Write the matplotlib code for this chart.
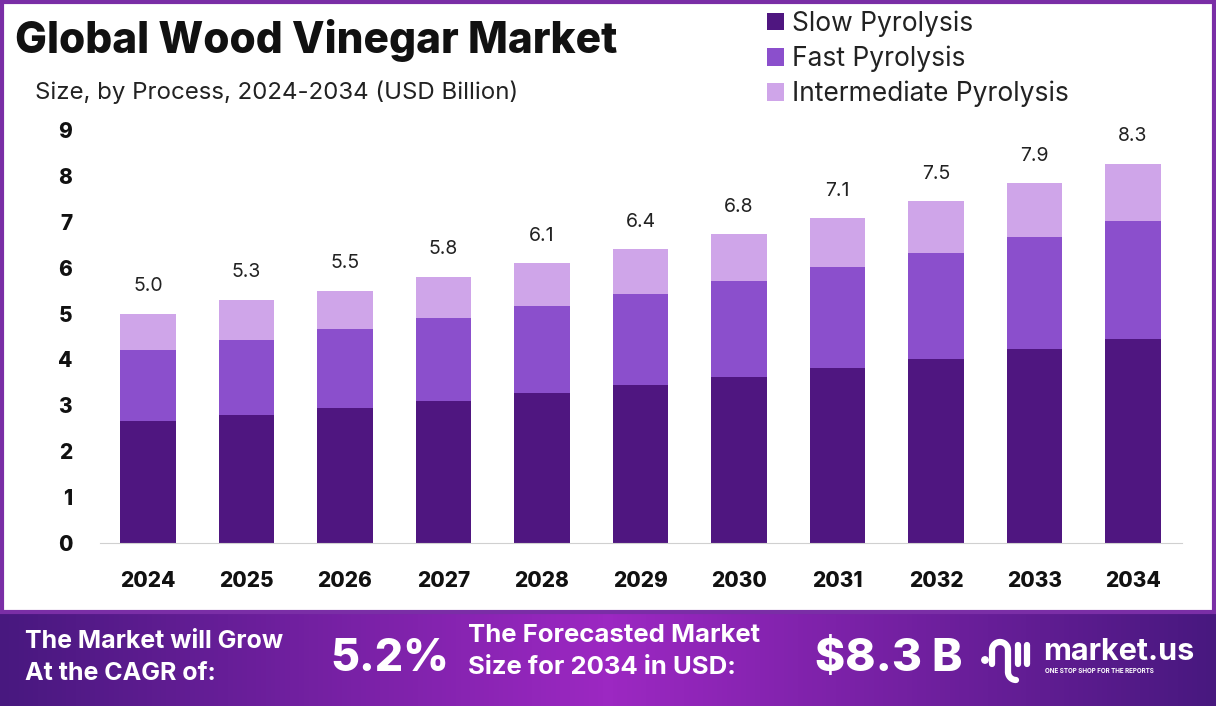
import numpy as np
import matplotlib
matplotlib.use("Agg")
import matplotlib.pyplot as plt
from matplotlib.patches import Rectangle, Circle
from matplotlib.colors import LinearSegmentedColormap

# data
years = ["2024", "2025", "2026", "2027", "2028", "2029", "2030", "2031", "2032", "2033", "2034"]
slow = [2.66, 2.79, 2.94, 3.09, 3.27, 3.44, 3.62, 3.81, 4.01, 4.23, 4.44]
fast = [1.54, 1.63, 1.72, 1.81, 1.89, 1.98, 2.09, 2.20, 2.31, 2.44, 2.58]
inter = [0.80, 0.88, 0.84, 0.90, 0.94, 0.98, 1.02, 1.07, 1.13, 1.17, 1.24]
totals = ["5.0", "5.3", "5.5", "5.8", "6.1", "6.4", "6.8", "7.1", "7.5", "7.9", "8.3"]
series_names = ["Slow Pyrolysis", "Fast Pyrolysis", "Intermediate Pyrolysis"]
colors = ["#4f1680", "#8b4fcc", "#cfa5e9"]

plt.rcParams['font.family'] = ['Inter', 'DejaVu Sans']

fig = plt.figure(figsize=(12.16, 7.06), dpi=100)
fig.patch.set_facecolor("white")

# footer band with gradient, drawn in pixel coordinates
bg = fig.add_axes([0, 0, 1, 94 / 706])
grad = np.concatenate([np.linspace(0, 1, 128), np.linspace(1, 0, 128)])[None, :]
cmap = LinearSegmentedColormap.from_list("band", ["#48187f", "#9c28c2"])
bg.imshow(grad, aspect="auto", cmap=cmap, extent=[0, 1216, 706, 612])
bg.set_xlim(0, 1216)
bg.set_ylim(706, 612)
bg.axis("off")

# border around chart area
fig.patches.append(Rectangle((0.002, 94 / 706), 0.996, 1 - 94 / 706 - 0.003, transform=fig.transFigure,
                             fill=False, edgecolor="#7a2ea6", linewidth=3))

ax = fig.add_axes([100 / 1216, 1 - 543 / 706, 1082 / 1216, 413 / 706])
x = np.arange(len(years))
w = 0.56
b1 = ax.bar(x, slow, w, color=colors[0], label=series_names[0])
b2 = ax.bar(x, fast, w, bottom=slow, color=colors[1], label=series_names[1])
bot3 = [s + f for s, f in zip(slow, fast)]
b3 = ax.bar(x, inter, w, bottom=bot3, color=colors[2], label=series_names[2])

for i in range(len(years)):
    top = bot3[i] + inter[i]
    ax.text(x[i], top + 0.6, totals[i], ha="center", va="center", fontsize=14, color="#222222")

ax.set_xlim(-0.487, len(years) - 1 + 0.497)
ax.set_ylim(0, 9)
ax.set_yticks(range(10))
ax.set_xticks(x)
ax.set_xticklabels(years)
for s in ["top", "right", "left"]:
    ax.spines[s].set_visible(False)
ax.spines["bottom"].set_color("#d0d0d0")
ax.tick_params(axis="both", length=0, labelsize=15)
ax.tick_params(axis="y", pad=20)
ax.tick_params(axis="x", pad=20)
for lab in ax.get_xticklabels() + ax.get_yticklabels():
    lab.set_fontweight("heavy")
    lab.set_color("#111111")

fig.text(15 / 1216, 1 - 40 / 706, "Global Wood Vinegar Market", fontsize=30.5, fontweight="heavy",
         va="center", ha="left", color="#111111")
fig.text(35 / 1216, 1 - 92 / 706, "Size, by Process, 2024-2034 (USD Billion)", fontsize=17.3,
         va="center", ha="left", color="#222222")

leg = fig.legend(handles=[b1, b2, b3], labels=series_names, loc="upper left",
                 bbox_to_anchor=(762 / 1216, 1 - 5 / 706), frameon=False, fontsize=19,
                 borderaxespad=0, borderpad=0.2,
                 handlelength=0.65, handleheight=0.65, handletextpad=0.3, labelspacing=0.33)
for t in leg.get_texts():
    t.set_color("#222222")

# footer text
fig.text(25 / 1216, 1 - 641 / 706, "The Market will Grow", fontsize=18, fontweight="bold", color="white", va="center")
fig.text(25 / 1216, 1 - 673 / 706, "At the CAGR of:", fontsize=18, fontweight="bold", color="white", va="center")
fig.text(330 / 1216, 1 - 659 / 706, "5.2%", fontsize=32, fontweight="heavy", color="white", va="center")
fig.text(468 / 1216, 1 - 636 / 706, "The Forecasted Market", fontsize=18.5, fontweight="bold", color="white", va="center")
fig.text(468 / 1216, 1 - 668 / 706, "Size for 2034 in USD:", fontsize=18.5, fontweight="bold", color="white", va="center")
fig.text(815 / 1216, 1 - 659 / 706, "$8.3 B", fontsize=33, fontweight="heavy", color="white", va="center")

# market.us logo mark
bg.add_patch(Circle((985, 660), 3.2, color="white"))
t = np.linspace(np.pi, 0, 30)
arch_x = np.concatenate([[992, 992], 1000 + 8 * np.cos(t), [1008, 1008]])
arch_y = np.concatenate([[664, 650], 650 - 8 * np.sin(t), [650, 672]])
bg.plot(arch_x, arch_y, color="white", lw=4.5, solid_capstyle="round")
t2 = np.linspace(np.pi, np.pi / 2, 15)
bg.plot(1016 + 8 * np.cos(t2), 672 + 8 * np.sin(t2), color="white", lw=4.5, solid_capstyle="round")
bg.plot([1018, 1018], [645, 664], color="white", lw=4.5, solid_capstyle="round")
bg.plot([1027, 1027], [645, 664], color="white", lw=4.5, solid_capstyle="round")
fig.text(1043 / 1216, 1 - 652 / 706, "market.us", fontsize=22, fontweight="bold", color="white", va="center")
fig.text(1045 / 1216, 1 - 671 / 706, "ONE STOP SHOP FOR THE REPORTS", fontsize=4.5, fontweight="bold", color="white", va="center")

fig.savefig("out.png", dpi=100)
